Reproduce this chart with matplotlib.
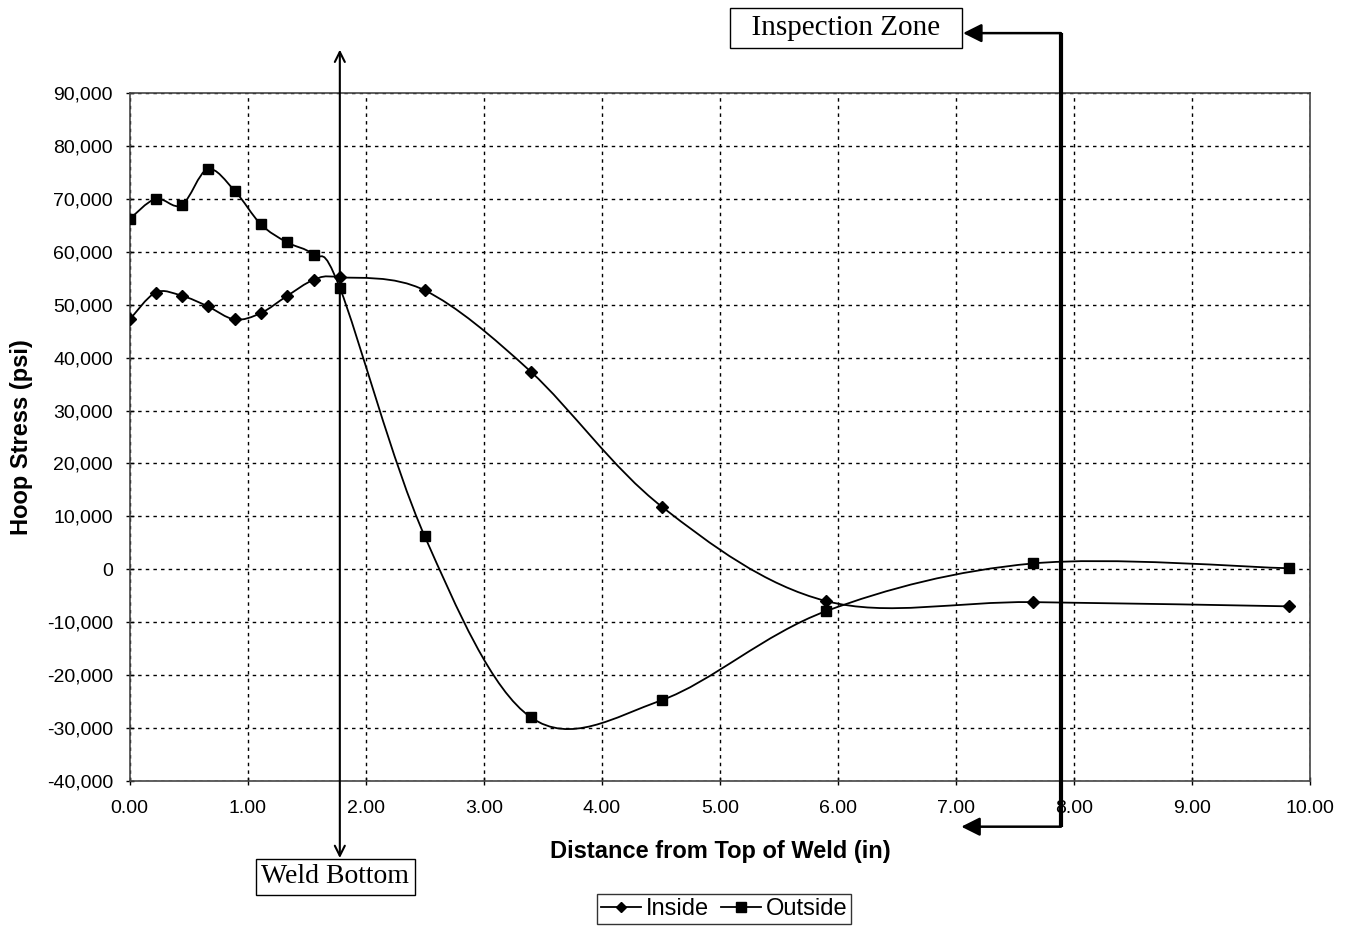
import matplotlib
matplotlib.use("Agg")
import matplotlib.pyplot as plt
import numpy as np
from matplotlib.lines import Line2D
from matplotlib.patches import PathPatch
from matplotlib.path import Path
from matplotlib.ticker import FuncFormatter, MultipleLocator

# Values
dist = [0.00, 0.22, 0.44, 0.66, 0.89, 1.11, 1.33, 1.56, 1.78, 2.50, 3.40, 4.51, 5.90, 7.65, 9.82]
inside = [47200, 52300, 51700, 49700, 47200, 48400, 51600, 54700, 55200,
          52700, 37300, 11800, -6000, -6200, -7000]
outside = [66200, 70000, 68800, 75600, 71500, 65200, 61800, 59400, 53200,
           6200, -28000, -24700, -7900, 1100, 200]
series_names = ["Inside", "Outside"]
weld_bottom_x = 1.78
inspection_x = 7.89

plt.rcParams["font.family"] = ["Liberation Sans", "DejaVu Sans"]


def smooth_path(x, y):
    """Excel-like smoothed line: Catmull-Rom segments as cubic Beziers."""
    pts = np.column_stack([x, y]).astype(float)
    padded = np.vstack([pts[0], pts, pts[-1]])
    verts = [pts[0]]
    codes = [Path.MOVETO]
    for i in range(len(pts) - 1):
        p0, p1, p2, p3 = padded[i:i + 4]
        verts += [p1 + (p2 - p0) / 6, p2 - (p3 - p1) / 6, p2]
        codes += [Path.CURVE4] * 3
    return Path(verts, codes)


fig = plt.figure(figsize=(13.57, 9.27), dpi=100)
ax = fig.add_axes([0.0956, 0.1575, 0.8698, 0.7422])

for vals, marker, ms in [(inside, "D", 6), (outside, "s", 7)]:
    ax.add_patch(PathPatch(smooth_path(dist, vals), fill=False, ec="black", lw=1.3, zorder=3))
    ax.plot(dist, vals, ls="none", marker=marker, ms=ms, color="black", zorder=4)

ax.set_xlim(0, 10)
ax.set_ylim(-40000, 90000)
ax.xaxis.set_major_locator(MultipleLocator(1))
ax.yaxis.set_major_locator(MultipleLocator(10000))
ax.xaxis.set_major_formatter(FuncFormatter(lambda v, p: f"{v:.2f}"))
ax.yaxis.set_major_formatter(FuncFormatter(lambda v, p: f"{v:,.0f}"))
ax.grid(True, color="black", linestyle=(0, (2.5, 3)), lw=1.0)
ax.tick_params(labelsize=14, direction="inout", length=6, width=1)
ax.tick_params(axis="x", pad=11)
ax.tick_params(axis="y", pad=9)
for sp in ax.spines.values():
    sp.set_color("#444444")
    sp.set_linewidth(1.2)

ax.set_xlabel("Distance from Top of Weld (in)", fontsize=17, fontweight="bold", labelpad=16)
ax.set_ylabel("Hoop Stress (psi)", fontsize=17, fontweight="bold", labelpad=10)

xt = ax.get_xaxis_transform()
serif = ["Liberation Serif", "DejaVu Serif"]

# Weld bottom marker line with arrows at both ends
ax.annotate("", xy=(weld_bottom_x, 1.063), xytext=(weld_bottom_x, -0.112),
            xycoords=xt, textcoords=xt,
            arrowprops=dict(arrowstyle="<->", lw=1.5, color="black",
                            mutation_scale=18, shrinkA=0, shrinkB=0))
ax.text(1.74, -0.1395, "Weld Bottom", transform=xt, ha="center", va="center",
        fontsize=20, family=serif, clip_on=False,
        bbox=dict(boxstyle="square,pad=0.2", fc="white", ec="black", lw=1))

# Inspection zone bracket
ax.plot([inspection_x, inspection_x], [1.087, -0.0664], transform=xt,
        color="black", lw=3, clip_on=False, zorder=5, solid_capstyle="butt")
for yy, tip in [(1.087, 7.06), (-0.0664, 7.045)]:
    ax.annotate("", xy=(tip, yy), xytext=(inspection_x, yy),
                xycoords=xt, textcoords=xt,
                arrowprops=dict(arrowstyle="-|>,head_length=0.8,head_width=0.4",
                                lw=1.8, color="black", mutation_scale=14,
                                shrinkA=0, shrinkB=0))
ax.text(6.07, 1.0945, "  Inspection Zone  ", transform=xt, ha="center", va="center",
        fontsize=21, family=serif, clip_on=False,
        bbox=dict(boxstyle="square,pad=0.25", fc="white", ec="black", lw=1))

handles = [Line2D([], [], color="black", lw=1.3, marker="D", ms=5.5),
           Line2D([], [], color="black", lw=1.3, marker="s", ms=6.5)]
fig.legend(handles, series_names, loc="center", bbox_to_anchor=(0.5335, 0.0194),
           ncol=2, fontsize=17, frameon=True, fancybox=False, edgecolor="black",
           handlelength=1.7, handletextpad=0.2, columnspacing=0.5,
           borderpad=0.15, borderaxespad=0)

fig.savefig("out.png", dpi=100)
